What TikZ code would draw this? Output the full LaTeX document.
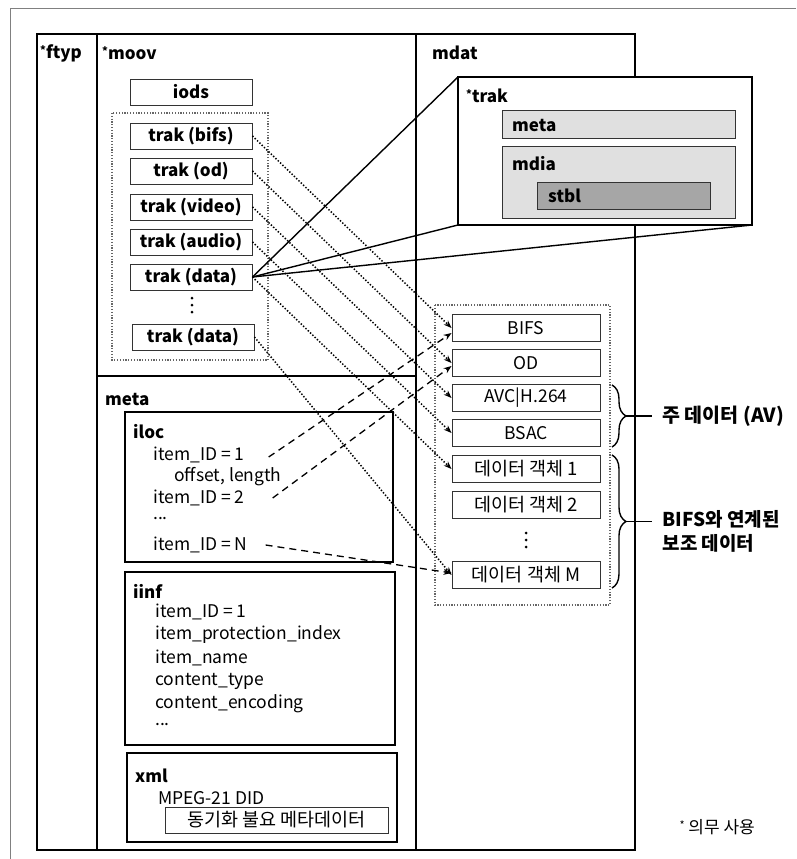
\documentclass[tikz,border=0pt]{standalone}
\usepackage{fontspec}
\setmainfont{Noto Sans CJK KR}
\usetikzlibrary{arrows.meta,decorations.pathreplacing}
\begin{document}
\begin{tikzpicture}[x=1pt,y=-1pt,
  font=\fontsize{17.5}{20}\selectfont,
  frame/.style={draw=black,line width=1.5pt},
  tbox/.style={draw=black!80,line width=0.9pt,minimum width=122pt,minimum height=26pt,inner sep=0pt,font=\fontsize{17}{19}\selectfont\bfseries},
  dbox/.style={draw=black!80,line width=0.9pt,minimum width=148pt,minimum height=27pt,inner sep=0pt,font=\fontsize{17.5}{19}\selectfont},
  kbox/.style={dbox,font=\fontsize{18.5}{19}\selectfont},
  grp/.style={draw=black!60,dash pattern=on 1.2pt off 1.6pt,line width=1.3pt},
  lbl/.style={anchor=west,inner sep=0pt,font=\fontsize{17}{19}\selectfont\bfseries},
  txt/.style={anchor=west,inner sep=0pt},
  dotarrow/.style={dash pattern=on 1.4pt off 1.8pt,line width=1.5pt,-{Stealth[length=8pt,width=6pt]}},
  dasharrow/.style={dash pattern=on 7pt off 5pt,line width=1.3pt,-{Stealth[length=8pt,width=6pt]}},
  zoomline/.style={line width=1.4pt},
  brc/.style={decorate,decoration={brace,amplitude=14pt},line width=1.4pt},
  vdot/.style={circle,fill=black,inner sep=0pt,minimum size=3pt}
]
\useasboundingbox (0,0) rectangle (796,859);
% outer thin frame
\draw[black!50,line width=0.6pt] (10,859) -- (10,8) -- (796,8);
% main frame
\draw[frame] (37,34) rectangle (635,850);
\draw[frame] (97,34) -- (97,850);
\draw[frame] (416,34) -- (416,850);
\draw[frame] (97,376) -- (416,376);
\node[lbl] (ftyp) at (40,53) {\raisebox{4pt}{\fontsize{11}{11}\selectfont *}ftyp};
\node[lbl] (moov) at (102,53) {\raisebox{4pt}{\fontsize{11}{11}\selectfont *}moov};
\node[lbl] (mdat) at (432,53) {mdat};
\node[lbl] (metalbl) at (105,399) {meta};

% moov contents
\node[tbox] (iods) at (191,92) {iods};
\draw[grp] (112,113) rectangle (268,360);
\node[tbox] (tbifs) at (191,136) {trak (bifs)};
\node[tbox] (tod) at (191,171) {trak (od)};
\node[tbox] (tvideo) at (191,207) {trak (video)};
\node[tbox] (taudio) at (191,242) {trak (audio)};
\node[tbox] (tdata) at (191,277) {trak (data)};
\node[vdot] (td1) at (192,298) {};
\node[vdot] (td2) at (192,305) {};
\node[vdot] (td3) at (192,312) {};
\node[tbox] (tdata2) at (193,337) {trak (data)};

% mdat contents
\draw[grp] (435,305) rectangle (610,605);
\node[dbox] (bifs) at (526,328) {BIFS};
\node[dbox] (od) at (526,363) {OD};
\node[dbox] (avc) at (526,398) {AVC|H.264};
\node[dbox] (bsac) at (526,433) {BSAC};
\node[kbox] (obj1) at (526,469) {데이터 객체 1};
\node[kbox] (obj2) at (526,505) {데이터 객체 2};
\node[vdot] (od1) at (526,533) {};
\node[vdot] (od2) at (526,540) {};
\node[vdot] (od3) at (526,547) {};
\node[kbox] (objm) at (526,575) {데이터 객체 M};

% braces
\draw[brc] (612,385) -- (612,447);
\draw[line width=1.4pt] (626,416) -- (652,416) coordinate (b1t);
\draw[brc] (612,455) -- (612,588);
\draw[line width=1.4pt] (626,521.5) -- (652,521.5) coordinate (b2t);
\node[anchor=west,font=\fontsize{19.5}{21}\selectfont\bfseries] (lav) at (659,416) {주 데이터 (AV)};
\node[anchor=west,align=left,font=\fontsize{19}{24}\selectfont\bfseries] (laux) at (659,531) {BIFS와 연계된\\보조 데이터};

% meta contents
\draw[frame] (125,412) rectangle (393,562);
\node[lbl] (iloc) at (133,432) {iloc};
\node[txt] (id1) at (153,455) {item\_ID = 1};
\node[txt] (offs) at (174,477) {offset, length};
\node[txt] (id2) at (153,498) {item\_ID = 2};
\node[txt] (idd) at (153,519) {...};
\node[txt] (idn) at (153,545) {item\_ID = N};

\draw[frame] (125,572) rectangle (395,745);
\node[lbl] (iinf) at (133,591) {iinf};
\node[txt] (ii1) at (155,612) {item\_ID = 1};
\node[txt] (ii2) at (155,635) {item\_protection\_index};
\node[txt] (ii3) at (155,658) {item\_name};
\node[txt] (ii4) at (155,681) {content\_type};
\node[txt] (ii5) at (155,704) {content\_encoding};
\node[txt] (ii6) at (155,725) {...};

\draw[frame] (127,753) rectangle (397,842);
\node[lbl] (xml) at (135,776) {xml};
\node[txt] (mpeg) at (158,798) {MPEG-21 DID};
\node[draw=black!80,line width=0.9pt,minimum width=223pt,minimum height=26pt,inner sep=0pt,font=\fontsize{18.5}{19}\selectfont] (sync) at (276.5,820) {동기화 불요 메타데이터};

% dotted track-to-data arrows
\draw[dotarrow] (tbifs.east) -- (bifs.west);
\draw[dotarrow] (tod.east) -- (od.west);
\draw[dotarrow] (tvideo.east) -- (avc.west);
\draw[dotarrow] (taudio.east) -- (bsac.west);
\draw[dotarrow] (tdata.east) -- (obj1.west);
\draw[dotarrow] (tdata2.east) -- (objm.west);

% dashed iloc arrows
\draw[dasharrow] ([xshift=24pt,yshift=-2pt]id1.east) -- ([yshift=-5pt]bifs.west);
\draw[dasharrow] ([xshift=28pt]id2.east) -- ([yshift=-3pt]od.west);
\draw[dasharrow] ([xshift=18pt]idn.east) -- ([yshift=2pt]objm.west);

% zoom lines and trak detail
\coordinate (ptl) at (458,77);
\coordinate (pbl) at (458,225);
\coordinate (pbr) at (752,225);
\draw[zoomline] (tdata.east) -- (ptl);
\draw[zoomline] (tdata.east) -- (pbl);
\draw[zoomline] (tdata.east) -- (pbr);
\draw[frame,fill=white] (458,77) rectangle (752,225);
\node[lbl] (trak) at (466,96) {\raisebox{4pt}{\fontsize{11}{11}\selectfont *}trak};
\draw[draw=black!80,line width=0.9pt,fill=black!12] (502,110) rectangle (735,138);
\node[lbl] (meta2) at (512,125) {meta};
\draw[draw=black!80,line width=0.9pt,fill=black!12] (502,146) rectangle (735,218);
\node[lbl] (mdia) at (512,164) {mdia};
\draw[draw=black!80,line width=0.9pt,fill=black!35] (537,182) rectangle (710,209);
\node[lbl] (stbl) at (548,196) {stbl};

% footnote
\node[anchor=west,font=\fontsize{17}{19}\selectfont] (note) at (676,827) {\raisebox{4pt}{\fontsize{11}{11}\selectfont *} 의무 사용};
\end{tikzpicture}
\end{document}
